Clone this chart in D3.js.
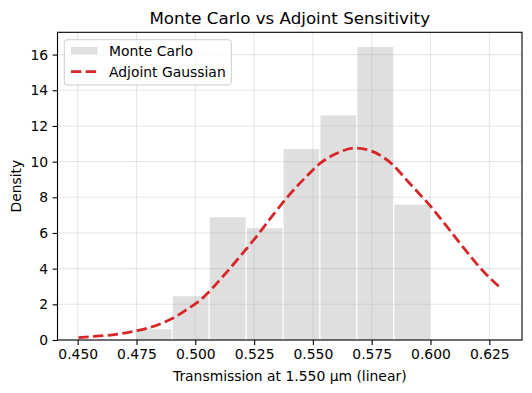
<!DOCTYPE html>
<html>
<head>
<meta charset="utf-8">
<script src="https://cdn.jsdelivr.net/npm/d3@7"></script>
<style>
  body { margin: 0; background: #fff; }
  text { font-family: "DejaVu Sans", sans-serif; fill: #000; }
</style>
</head>
<body>
<div class="chart"></div>
<script>
var width = 532,
    height = 393;

// histogram (density)
var binEdges = [0.4745, 0.4902, 0.5059, 0.5216, 0.5373, 0.5530, 0.5687, 0.5844, 0.6000];
var density = [0.63, 2.48, 6.91, 6.29, 10.73, 12.62, 16.45, 7.62];

// adjoint gaussian curve
var curveX = [0.4503, 0.4552, 0.4609, 0.4673, 0.4736, 0.4793, 0.4850, 0.4906, 0.4963, 0.5013,
              0.512, 0.519, 0.526, 0.533, 0.540, 0.5475, 0.553, 0.560, 0.568, 0.5755,
              0.5835, 0.591, 0.600, 0.607, 0.614, 0.621, 0.6295];
var curveY = [0.13, 0.18, 0.24, 0.34, 0.48, 0.65, 0.90, 1.23, 1.70, 2.15,
              3.60, 4.68, 5.80, 7.00, 8.14, 9.20, 9.90, 10.45, 10.76, 10.56,
              9.88, 8.80, 7.50, 6.35, 5.18, 4.06, 2.95];

var xTicks = [0.450, 0.475, 0.500, 0.525, 0.550, 0.575, 0.600, 0.625];
var yTicks = [0, 2, 4, 6, 8, 10, 12, 14, 16];

var plot = { left: 57.5, right: 522, top: 32.3, bottom: 340 };

var x = d3.scaleLinear().domain([0.44141, 0.6389]).range([plot.left, plot.right]);
var y = d3.scaleLinear().domain([0, 17.25]).range([plot.bottom, plot.top]);

var svg = d3.select(".chart").append("svg")
    .attr("width", width)
    .attr("height", height);

// bars
svg.append("g").selectAll("rect")
    .data(density)
    .enter().append("rect")
    .attr("x", function(d, i) { return x(binEdges[i]); })
    .attr("width", function(d, i) { return x(binEdges[i + 1]) - x(binEdges[i]); })
    .attr("y", function(d) { return y(d); })
    .attr("height", function(d) { return y(0) - y(d); })
    .attr("fill", "#dfdfdf")
    .attr("stroke", "#fff")
    .attr("stroke-width", 1);

// grid (above bars, below line)
var grid = svg.append("g").attr("stroke", "#b0b0b0").attr("stroke-opacity", 0.3).attr("stroke-width", 1.1);
grid.selectAll(".gx").data(xTicks).enter().append("line")
    .attr("x1", function(d) { return x(d); }).attr("x2", function(d) { return x(d); })
    .attr("y1", plot.top).attr("y2", plot.bottom);
grid.selectAll(".gy").data(yTicks).enter().append("line")
    .attr("x1", plot.left).attr("x2", plot.right)
    .attr("y1", function(d) { return y(d); }).attr("y2", function(d) { return y(d); });

// gaussian line
var line = d3.line()
    .x(function(d, i) { return x(curveX[i]); })
    .y(function(d) { return y(d); })
    .curve(d3.curveMonotoneX);

svg.append("path")
    .datum(curveY)
    .attr("d", line)
    .attr("fill", "none")
    .attr("stroke", "#d62728")
    .attr("stroke-width", 2.78)
    .attr("stroke-dasharray", "10.3,4.4");

// axes
var xAxis = svg.append("g")
    .attr("transform", "translate(0," + plot.bottom + ")")
    .call(d3.axisBottom(x).tickValues(xTicks).tickFormat(d3.format(".3f")).tickSize(4.9).tickPadding(4.5));
var yAxis = svg.append("g")
    .attr("transform", "translate(" + plot.left + ",0)")
    .call(d3.axisLeft(y).tickValues(yTicks).tickSize(4.9).tickPadding(4.5));

[xAxis, yAxis].forEach(function(a) {
    a.select(".domain").remove();
    a.selectAll("line").attr("stroke", "#000").attr("stroke-width", 1.1);
    a.selectAll("text").style("font-size", "13.9px").style("font-family", "DejaVu Sans").attr("fill", "#000");
});

// spines
svg.append("rect")
    .attr("x", plot.left).attr("y", plot.top)
    .attr("width", plot.right - plot.left).attr("height", plot.bottom - plot.top)
    .attr("fill", "none").attr("stroke", "#000").attr("stroke-width", 1.1);

// labels
svg.append("text")
    .attr("x", (plot.left + plot.right) / 2).attr("y", 24)
    .attr("text-anchor", "middle")
    .style("font-size", "16.7px")
    .text("Monte Carlo vs Adjoint Sensitivity");

svg.append("text")
    .attr("x", (plot.left + plot.right) / 2).attr("y", 381)
    .attr("text-anchor", "middle")
    .style("font-size", "13.9px")
    .text("Transmission at 1.550 µm (linear)");

svg.append("text")
    .attr("transform", "translate(21," + ((plot.top + plot.bottom) / 2) + ") rotate(-90)")
    .attr("text-anchor", "middle")
    .style("font-size", "13.9px")
    .text("Density");

// legend
var legend = svg.append("g");
legend.append("rect")
    .attr("x", 64.3).attr("y", 39.7)
    .attr("width", 167).attr("height", 45.3)
    .attr("rx", 3)
    .attr("fill", "#fff").attr("fill-opacity", 0.8)
    .attr("stroke", "#cccccc").attr("stroke-width", 1);
legend.append("rect")
    .attr("x", 71).attr("y", 47)
    .attr("width", 26.5).attr("height", 7.5)
    .attr("fill", "#dfdfdf");
legend.append("line")
    .attr("x1", 71).attr("x2", 98.8)
    .attr("y1", 71.7).attr("y2", 71.7)
    .attr("stroke", "#d62728").attr("stroke-width", 2.78)
    .attr("stroke-dasharray", "10.3,4.4");
legend.append("text")
    .attr("x", 109).attr("y", 56)
    .style("font-size", "13.9px")
    .text("Monte Carlo");
legend.append("text")
    .attr("x", 109).attr("y", 76.7)
    .style("font-size", "13.9px")
    .text("Adjoint Gaussian");
</script>
</body>
</html>
